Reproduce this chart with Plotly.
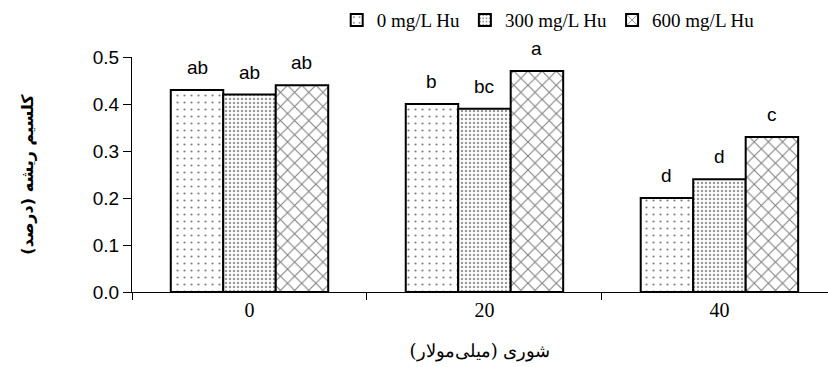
import plotly.graph_objects as go

categories = ["0", "20", "40"]
series_names = ["0 mg/L Hu", "300 mg/L Hu", "600 mg/L Hu"]
values_0 = [0.43, 0.40, 0.20]
values_300 = [0.42, 0.39, 0.24]
values_600 = [0.44, 0.47, 0.33]
letters_0 = ["ab", "b", "d"]
letters_300 = ["ab", "bc", "d"]
letters_600 = ["ab", "a", "c"]
y_ticks = [0.0, 0.1, 0.2, 0.3, 0.4, 0.5]
y_title = "کلسیم ریشه (درصد)"
x_title = "شوری (میلی‌مولار)"

patterns = [
    dict(shape=".", size=7, solidity=0.08, fgcolor="black", bgcolor="white"),
    dict(shape=".", size=4, solidity=0.3, fgcolor="#333333", bgcolor="white"),
    dict(shape="x", size=10, solidity=0.2, fgcolor="black", bgcolor="white"),
]

bargap = 0.33
n_series = 3
bar_w = (1 - bargap) / n_series

fig = go.Figure()
all_vals = [values_0, values_300, values_600]
all_lets = [letters_0, letters_300, letters_600]
for s, (name, vals, lets, pat) in enumerate(zip(series_names, all_vals, all_lets, patterns)):
    fig.add_trace(go.Bar(
        x=categories, y=vals, name=name,
        marker=dict(color="white", line=dict(color="black", width=2), pattern=pat),
    ))
    for c, (v, l) in enumerate(zip(vals, lets)):
        fig.add_annotation(
            x=c + (s - (n_series - 1) / 2) * bar_w, y=v, xref="x", yref="y",
            text=l, showarrow=False, yanchor="bottom", yshift=10,
            font=dict(family="Liberation Sans, Arial", size=19, color="black"),
        )

fig.update_layout(
    width=828, height=367,
    margin=dict(l=132, r=0, t=57, b=75),
    paper_bgcolor="white", plot_bgcolor="white",
    barmode="group", bargap=bargap, bargroupgap=0,
    showlegend=True,
    legend=dict(orientation="h", x=0.598, xanchor="center", y=1.157, yanchor="middle",
                font=dict(family="Liberation Serif, Times New Roman", size=19, color="black"),
                itemwidth=30, tracegroupgap=0),
    xaxis=dict(
        type="category", range=[-0.5, 2.462],
        showline=True, linecolor="black", linewidth=1,
        ticks="outside", tickson="boundaries", ticklen=7, tickcolor="black",
        tickfont=dict(family="Liberation Serif, Times New Roman", size=20, color="black"),
        title=dict(text=x_title, font=dict(family="DejaVu Serif, Liberation Serif", size=18, color="black"), standoff=24),
    ),
    yaxis=dict(
        range=[0, 0.5], tickvals=y_ticks, tickformat=".1f",
        showline=True, linecolor="black", linewidth=1,
        ticks="outside", ticklen=8, tickcolor="black",
        showgrid=False, zeroline=False,
        tickfont=dict(family="Liberation Sans, Arial", size=19, color="black"),
        title=dict(text="<b>" + y_title + "</b>", font=dict(family="DejaVu Sans", size=16, color="black"), standoff=55),
    ),
)

fig.write_html("out.html")
